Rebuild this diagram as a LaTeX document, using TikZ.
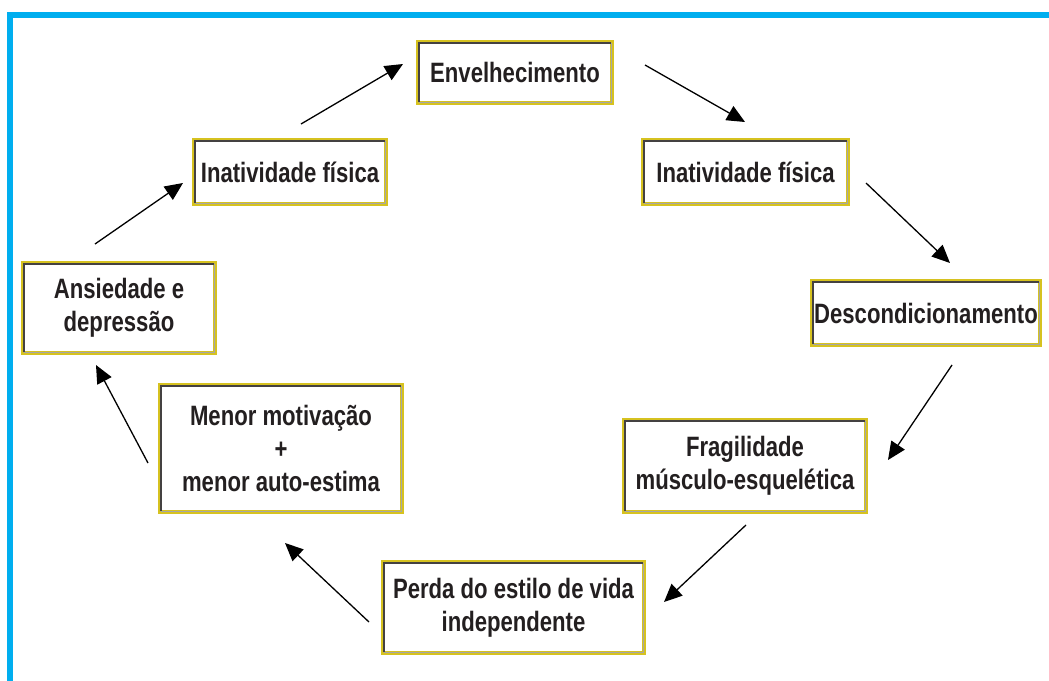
\documentclass[tikz,border=0pt]{standalone}
\usepackage{fontspec}
\setmainfont{Liberation Sans}[FakeStretch=0.79]
\usetikzlibrary{arrows.meta}
\definecolor{frameblue}{RGB}{0,174,239}
\definecolor{boxyellow}{RGB}{214,194,32}
\definecolor{txtdark}{RGB}{35,31,32}
\tikzset{
  box/.style={draw=boxyellow, line width=4pt, fill=white, inner sep=0pt,
    align=center, text=txtdark, font=\fontsize{28}{33}\selectfont\bfseries},
  innerline/.style={draw=txtdark!85, line width=1.6pt},
  innerlight/.style={draw=gray!70, line width=1pt},
  arr/.style={draw=black, line width=1.3pt, -{Triangle[length=18pt,width=16pt]}}
}
\begin{document}
\begin{tikzpicture}[x=1pt,y=-1pt]
\useasboundingbox (0,0) rectangle (1049,680);
\fill[white] (0,0) rectangle (1049,680);
\draw[frameblue, line width=6pt] (10,15) rectangle (1070,685);

\node[box, minimum width=194, minimum height=61] (env) at (515,72.5) {Envelhecimento};
\node[box, minimum width=205, minimum height=64] (inatr) at (745.5,172) {Inatividade física};
\node[box, minimum width=228, minimum height=64] (desc) at (926,313) {Descondicionamento};
\node[box, minimum width=242, minimum height=92] (frag) at (745,466) {Fragilidade\\músculo-esquelética};
\node[box, minimum width=261, minimum height=91] (perda) at (513.5,607.5) {Perda do estilo de vida\\independente};
\node[box, minimum width=242, minimum height=127] (menor) at (281,448.5) {Menor motivação\\+\\menor auto-estima};
\node[box, minimum width=192, minimum height=90] (ans) at (119,308) {Ansiedade e\\depressão};
\node[box, minimum width=192, minimum height=64] (inatl) at (290,172) {Inatividade física};

\foreach \n in {env,inatr,desc,frag,perda,menor,ans,inatl}{
  \draw[innerlight] ([xshift=2.8pt,yshift=2.8pt]\n.south west) -| ([xshift=-2.8pt,yshift=-2.8pt]\n.north east);
  \draw[innerline] ([xshift=2.8pt,yshift=2.8pt]\n.south west) |- ([xshift=-2.8pt,yshift=-2.8pt]\n.north east);
}

\coordinate (a1s) at (301,124); \coordinate (a1e) at (403,64);
\coordinate (a2s) at (645,65);  \coordinate (a2e) at (745,122);
\coordinate (a3s) at (866,183); \coordinate (a3e) at (950,263);
\coordinate (a4s) at (952,365); \coordinate (a4e) at (888,460);
\coordinate (a5s) at (746,525); \coordinate (a5e) at (664,602);
\coordinate (a6s) at (369,622); \coordinate (a6e) at (285,543);
\coordinate (a7s) at (148,463); \coordinate (a7e) at (96,365);
\coordinate (a8s) at (95,244);  \coordinate (a8e) at (183,183);

\foreach \i in {1,...,8}{
  \draw[arr] (a\i s) -- (a\i e);
}
\end{tikzpicture}
\end{document}
